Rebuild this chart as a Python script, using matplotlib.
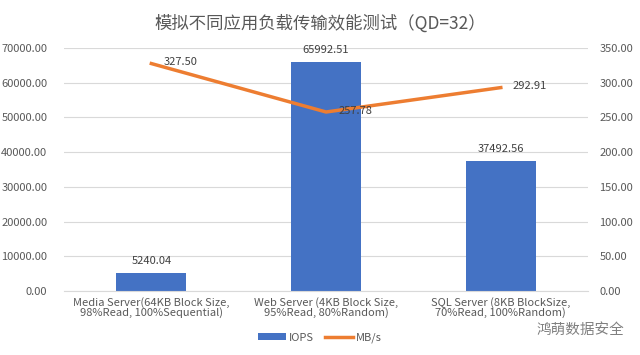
import matplotlib.pyplot as plt
import numpy as np

plt.rcParams['font.family'] = ['Noto Sans CJK SC', 'DejaVu Sans']

# Data
categories = ['Media Server(64KB Block Size,\n98%Read, 100%Sequential)',
              'Web Server (4KB Block Size,\n95%Read, 80%Random)',
              'SQL Server (8KB BlockSize,\n70%Read, 100%Random)']
iops = [5240.04, 65992.51, 37492.56]
mbs = [327.50, 257.78, 292.91]
left_ticks = [0, 10000, 20000, 30000, 40000, 50000, 60000, 70000]
right_ticks = [0, 50, 100, 150, 200, 250, 300, 350]

gray = '#595959'
x = np.arange(len(categories))

fig = plt.figure(figsize=(6.4, 3.55), dpi=100)
ax = fig.add_axes([0.1, 0.18, 0.819, 0.685])
ax2 = ax.twinx()

ax.bar(x, iops, width=0.4, color='#4472C4', label='IOPS', zorder=2)
ax2.plot(x, mbs, color='#ED7D31', linewidth=2.5, label='MB/s', zorder=3)

ax.set_xlim(-0.5, 2.5)
ax.set_ylim(0, 70000)
ax2.set_ylim(0, 350)
ax.set_yticks(left_ticks)
ax.set_yticklabels([f'{v:.2f}' for v in left_ticks])
ax2.set_yticks(right_ticks)
ax2.set_yticklabels([f'{v:.2f}' for v in right_ticks])
ax.set_xticks(x)
ax.set_xticklabels(categories, fontsize=8, color=gray, linespacing=1.0)

ax.grid(axis='y', color='#D9D9D9', linewidth=0.8, zorder=0)
for a in (ax, ax2):
    for s in a.spines.values():
        s.set_visible(False)
    a.tick_params(length=0, labelsize=8, labelcolor=gray)
ax.spines['bottom'].set_visible(True)
ax.spines['bottom'].set_color('#D9D9D9')
ax.tick_params(axis='y', pad=12)
ax2.tick_params(axis='y', pad=8)
ax.tick_params(axis='x', pad=4)

for i, v in enumerate(iops):
    ax.text(x[i], v + 2000, f'{v:.2f}', ha='center', va='bottom', fontsize=8, color='#404040')
for i, v in enumerate(mbs):
    ax2.text(x[i] + 0.07, v + 2, f'{v:.2f}', ha='left', va='center', fontsize=8, color='#404040')

fig.text(0.5, 0.935, '模拟不同应用负载传输效能测试（QD=32）', ha='center', va='center',
         fontsize=12.5, color=gray)

h1, l1 = ax.get_legend_handles_labels()
h2, l2 = ax2.get_legend_handles_labels()
fig.legend(h1 + h2, l1 + l2, loc='center', bbox_to_anchor=(0.5, 0.048), ncol=2,
           frameon=False, fontsize=8, labelcolor=gray, handlelength=2.5,
           handleheight=0.6, columnspacing=1.0, handletextpad=0.3)

fig.text(0.975, 0.07, '鸿萌数据安全', ha='right', va='center', fontsize=10.5, color='#808080')

fig.savefig('out.png', dpi=100)
